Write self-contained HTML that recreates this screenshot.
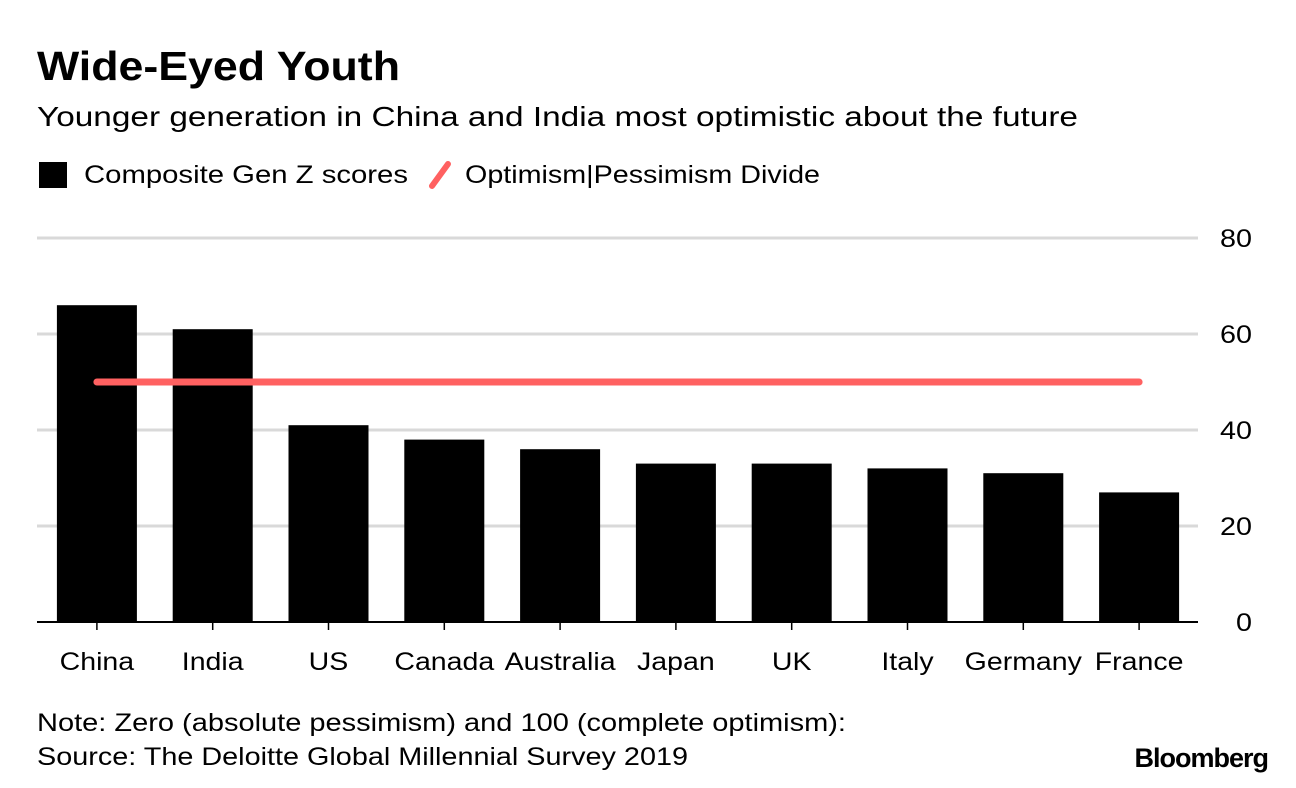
<!DOCTYPE html>
<html><head><meta charset="utf-8">
<style>
body{margin:0;background:#fff;width:1296px;height:788px;overflow:hidden;font-family:"Liberation Sans",Arial,sans-serif;}
svg{display:block}
</style></head>
<body>
<svg width="1296" height="788">
<text x="37" y="80" font-size="41" font-weight="bold" fill="#000" textLength="363" lengthAdjust="spacingAndGlyphs">Wide-Eyed Youth</text>
<text x="37" y="126" font-size="28" fill="#000" textLength="1041" lengthAdjust="spacingAndGlyphs">Younger generation in China and India most optimistic about the future</text>
<g>
<rect x="39" y="162" width="28" height="26" fill="#000"/>
<text x="84" y="183" font-size="25" textLength="324" lengthAdjust="spacingAndGlyphs">Composite Gen Z scores</text>
<line x1="432" y1="186" x2="448" y2="164" stroke="#ff6161" stroke-width="6" stroke-linecap="round"/>
<text x="465" y="183" font-size="25" textLength="355" lengthAdjust="spacingAndGlyphs">Optimism|Pessimism Divide</text>
</g>
<g id="grid"></g><g id="bars"></g><g id="xlabels"></g><g id="ylabels"></g><g id="line"></g>
<text x="37" y="731" font-size="25" textLength="809" lengthAdjust="spacingAndGlyphs">Note: Zero (absolute pessimism) and 100 (complete optimism):</text>
<text x="37" y="765" font-size="25" textLength="651" lengthAdjust="spacingAndGlyphs">Source: The Deloitte Global Millennial Survey 2019</text>
<text x="1268" y="767" font-size="27" font-weight="bold" text-anchor="end" letter-spacing="-1">Bloomberg</text>
</svg>
<script>
const categories=["China","India","US","Canada","Australia","Japan","UK","Italy","Germany","France"];
const scores=[66,61,41,38,36,33,33,32,31,27];
const divide=[50];
const yTicks=[0,20,40,60,80];
const NS="http://www.w3.org/2000/svg";
const y=v=>622-v*4.8;
const step=115.8, bw=80, x0=39;
const cx=i=>x0+step*i+step/2;
function mk(t,a,p){const e=document.createElementNS(NS,t);for(const k in a)e.setAttribute(k,a[k]);document.getElementById(p).appendChild(e);return e;}
function stretch(e,f){const w=e.getComputedTextLength();e.setAttribute('textLength',w*f);e.setAttribute('lengthAdjust','spacingAndGlyphs');}
yTicks.forEach(t=>{
 const g=mk('line',{x1:37,x2:1198,y1:y(t),y2:y(t),stroke:t===0?'#000':'#d9d9d9','stroke-width':t===0?2:3},'grid');
 
 
 const l=mk('text',{x:1252,y:y(t)+9,'font-size':25,'text-anchor':'end'},'ylabels');
 l.textContent=t;
 
 
 stretch(l,1.15);
});
categories.forEach((c,i)=>{
 const b=mk('rect',{x:cx(i)-bw/2,y:y(scores[i]),width:bw,height:y(0)-y(scores[i]),fill:'#000'},'bars');
 
 
 const t=mk('line',{x1:cx(i),x2:cx(i),y1:622,y2:630,stroke:'#000','stroke-width':1.5},'grid');
 
 
 const l=mk('text',{x:cx(i),y:670,'font-size':25,'text-anchor':'middle'},'xlabels');
 l.textContent=c;
 
 
 stretch(l,1.14);
});
const ln=mk('line',{x1:cx(0),x2:cx(categories.length-1),y1:y(divide[0]),y2:y(divide[0]),stroke:'#ff6161','stroke-width':7,'stroke-linecap':'round'},'line');


</script>
</body></html>
